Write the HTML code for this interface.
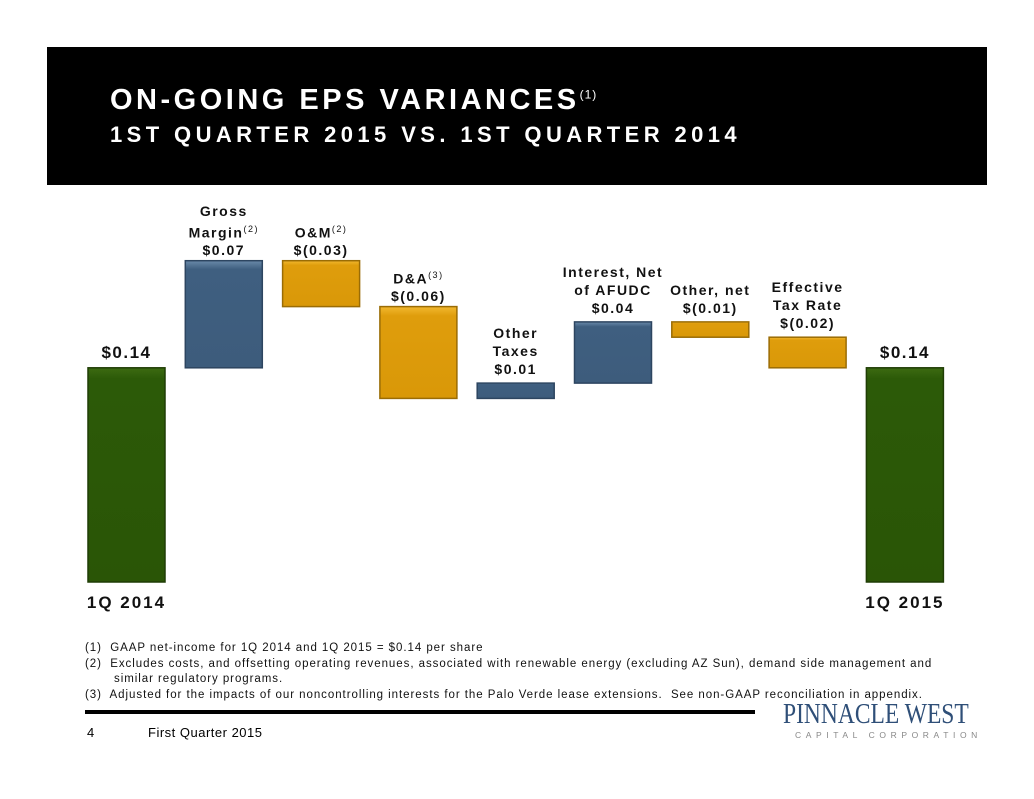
<!DOCTYPE html>
<html><head><meta charset="utf-8"><style>
body{margin:0;width:1034px;height:799px;background:#fff;font-family:"Liberation Sans",sans-serif;position:relative;overflow:hidden}
.hdr{position:absolute;left:47px;top:47px;width:940px;height:138px;background:#000}
.t1,.t2{position:absolute;left:110px;color:#fff;font-weight:bold;white-space:nowrap}
.t1{top:84px;font-size:29px;letter-spacing:3.5px}.t2{top:122px;font-size:22px;letter-spacing:4.4px}
.lbl{position:absolute;font-weight:bold;font-size:14px;letter-spacing:1.5px;text-align:center;color:#111;line-height:18px;width:120px}
sup{font-size:9px;font-weight:normal}
.notes{position:absolute;left:85px;top:641px;font-size:11.5px;letter-spacing:0.95px;line-height:15.5px;color:#111;white-space:nowrap}
</style></head><body>
<div class="hdr"></div>
<div class="t1">ON-GOING EPS VARIANCES<sup style="font-size:12px;letter-spacing:1px">(1)</sup></div>
<div class="t2">1ST QUARTER 2015 VS. 1ST QUARTER 2014</div>
<svg id="chart" width="1034" height="799" style="position:absolute;left:0;top:0">
<defs>
<linearGradient id="gG" x1="0" x2="0" y1="0" y2="1"><stop offset="0" stop-color="#3d6b12"/><stop offset="0.05" stop-color="#2c5a08"/><stop offset="1" stop-color="#2a5506"/></linearGradient>
<linearGradient id="gB" x1="0" x2="0" y1="0" y2="1"><stop offset="0" stop-color="#6a8aaa"/><stop offset="0.08" stop-color="#3f5f80"/><stop offset="1" stop-color="#3d5c7c"/></linearGradient>
<linearGradient id="gO" x1="0" x2="0" y1="0" y2="1"><stop offset="0" stop-color="#f2b830"/><stop offset="0.1" stop-color="#df9d0c"/><stop offset="1" stop-color="#d99808"/></linearGradient>
</defs>
</svg>
<div class="notes">
(1)&nbsp; GAAP net-income for 1Q 2014 and 1Q 2015 = $0.14 per share<br>
(2)&nbsp; Excludes costs, and offsetting operating revenues, associated with renewable energy (excluding AZ Sun), demand side management and<br>
&nbsp;&nbsp;&nbsp;&nbsp;&nbsp;&nbsp;&nbsp;similar regulatory programs.<br>
(3)&nbsp; Adjusted for the impacts of our noncontrolling interests for the Palo Verde lease extensions.&nbsp; See non-GAAP reconciliation in appendix.
</div>
<div style="position:absolute;left:85px;top:710px;width:670px;height:4px;background:#000"></div>
<div style="position:absolute;left:87px;top:725px;font-size:13px">4</div>
<div style="position:absolute;left:148px;top:725px;font-size:13px;letter-spacing:0.5px">First Quarter 2015</div>
<div style="position:absolute;left:783px;top:699px;font-family:'Liberation Serif',serif;font-size:28px;color:#2f4f78;white-space:nowrap;transform:scaleX(0.84);transform-origin:left">PINNACLE WEST</div>
<div style="position:absolute;left:795px;top:730px;font-size:8.5px;color:#888;letter-spacing:4.6px;white-space:nowrap">CAPITAL CORPORATION</div>
<script>
const categories=["1Q 2014","Gross Margin","O&M","D&A","Other Taxes","Interest, Net of AFUDC","Other, net","Effective Tax Rate","1Q 2015"];
const values=[0.14,0.07,-0.03,-0.06,0.01,0.04,-0.01,-0.02,0.14];
const kinds=["total","delta","delta","delta","delta","delta","delta","delta","total"];
const labelsHtml=["$0.14","Gross<br>Margin<sup>(2)</sup><br>$0.07","O&amp;M<sup>(2)</sup><br>$(0.03)","D&amp;A<sup>(3)</sup><br>$(0.06)","Other<br>Taxes<br>$0.01","Interest, Net<br>of AFUDC<br>$0.04","Other, net<br>$(0.01)","Effective<br>Tax Rate<br>$(0.02)","$0.14"];
const svg=document.getElementById('chart');
const base=582,scale=1530,x0=88,step=97.3,bw=77;
const y=v=>base-v*scale;
let run=0;
categories.forEach((c,i)=>{
  let top,bot;
  if(kinds[i]==="total"){run=values[i];top=y(run);bot=base;}
  else{const a=run,b=run+values[i];run=b;top=y(Math.max(a,b));bot=y(Math.min(a,b));}
  const r=document.createElementNS('http://www.w3.org/2000/svg','rect');
  r.setAttribute('x',x0+i*step);r.setAttribute('y',top);r.setAttribute('width',bw);r.setAttribute('height',bot-top);
  r.setAttribute('fill',kinds[i]==="total"?"url(#gG)":(values[i]>0?"url(#gB)":"url(#gO)"));
  r.setAttribute('stroke',kinds[i]==="total"?"#1f3d05":(values[i]>0?"#2d4560":"#9a6c05"));
  r.setAttribute('stroke-width','1.5');
  
  
  svg.appendChild(r);
  const d=document.createElement('div');
  d.className='lbl';
  
  
  d.innerHTML=labelsHtml[i];
  const lines=labelsHtml[i].split('<br>').length;
  const big=kinds[i]==="total";
  if(big){d.style.fontSize='17px';d.style.lineHeight='20px';}
  d.style.left=(x0+i*step+bw/2-60)+'px';
  d.style.top=(top-(big?25:lines*18+5))+'px';
  document.body.appendChild(d);
  if(big){
    const a=document.createElement('div');
    a.className='lbl';
    
    
    a.style.fontSize='17px';a.style.letterSpacing='2px';
    a.textContent=c;
    a.style.left=(x0+i*step+bw/2-60)+'px';a.style.top='594px';
    document.body.appendChild(a);
  }
});
</script>
</body></html>
